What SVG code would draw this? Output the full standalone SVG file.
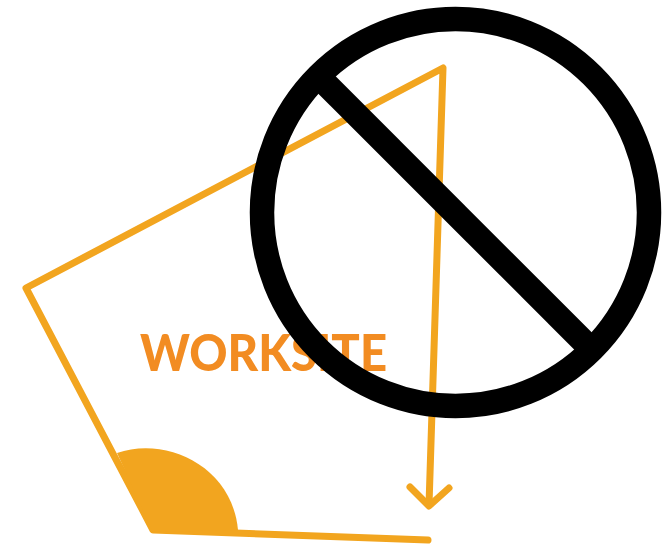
<svg xmlns="http://www.w3.org/2000/svg" width="667" height="546" viewBox="0 0 667 546">
<style>
.l{fill:none;stroke:#f2a51f;stroke-width:7;stroke-linecap:round;stroke-linejoin:round}
.t{font-family:"Lato","Liberation Sans",sans-serif;font-weight:900;font-size:52px;fill:#f28c22}
</style>
<rect width="667" height="546" fill="#fff"/>
<g id="connectors">
<path class="l" d="M428 540L153 530L26 288L443 68L429 505"/>
<path class="l" d="M410 487L429 506L449 488"/>
</g>
<g id="angle"><path d="M117 453C165 436 232 465 238 530L153 532Z" fill="#f2a51f"/></g>
<g id="label"><text class="t" x="140" y="371" textLength="247" lengthAdjust="spacingAndGlyphs">WORKSITE</text></g>
<g id="prohibition">
<circle cx="455.500" cy="212.500" r="193.500" fill="none" stroke="#000" stroke-width="24.500"/>
<path d="M322 80L590 348" stroke="#000" stroke-width="24.500" fill="none"/>
</g>
</svg>
